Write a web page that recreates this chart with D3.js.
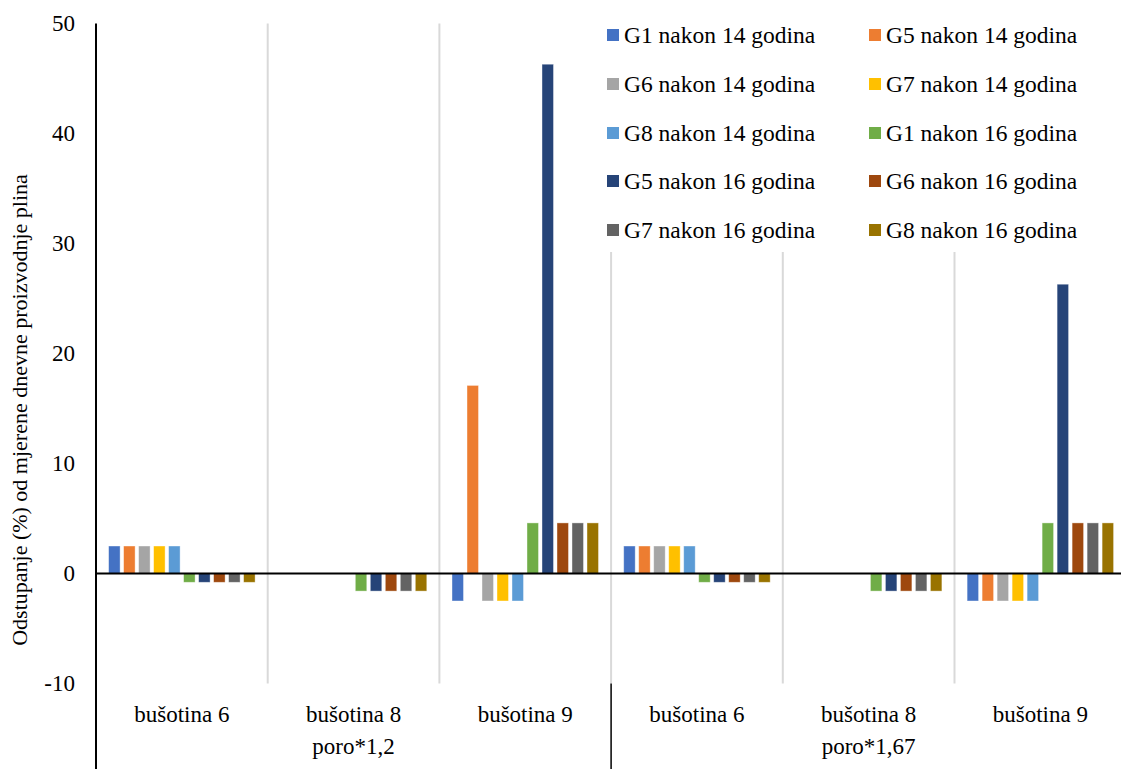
<!DOCTYPE html>
<html><head><meta charset="utf-8">
<script src="https://cdn.jsdelivr.net/npm/d3@7"></script>
</head><body style="margin:0;background:#fff"><svg id="c" width="1121" height="769" style="display:block"></svg>
<script>
const categories = ["bušotina 6","bušotina 8","bušotina 9","bušotina 6","bušotina 8","bušotina 9"];
const groupLabels = ["poro*1,2","poro*1,67"];
const seriesNames = ["G1 nakon 14 godina","G5 nakon 14 godina","G6 nakon 14 godina","G7 nakon 14 godina","G8 nakon 14 godina",
  "G1 nakon 16 godina","G5 nakon 16 godina","G6 nakon 16 godina","G7 nakon 16 godina","G8 nakon 16 godina"];
const seriesColors = ["#4472C4","#ED7D31","#A5A5A5","#FFC000","#5B9BD5","#70AD47","#264478","#9E480E","#636363","#997300"];
const g1_14 = [2.5, 0, -2.5, 2.5, 0, -2.5];
const g5_14 = [2.5, 0, 17.1, 2.5, 0, -2.5];
const g6_14 = [2.5, 0, -2.5, 2.5, 0, -2.5];
const g7_14 = [2.5, 0, -2.5, 2.5, 0, -2.5];
const g8_14 = [2.5, 0, -2.5, 2.5, 0, -2.5];
const g1_16 = [-0.8, -1.6, 4.6, -0.8, -1.6, 4.6];
const g5_16 = [-0.8, -1.6, 46.3, -0.8, -1.6, 26.3];
const g6_16 = [-0.8, -1.6, 4.6, -0.8, -1.6, 4.6];
const g7_16 = [-0.8, -1.6, 4.6, -0.8, -1.6, 4.6];
const g8_16 = [-0.8, -1.6, 4.6, -0.8, -1.6, 4.6];
const seriesValues = [g1_14,g5_14,g6_14,g7_14,g8_14,g1_16,g5_16,g6_16,g7_16,g8_16];
const yTicks = [-10,0,10,20,30,40,50];
const yTitle = "Odstupanje (%) od mjerene dnevne proizvodnje plina";

(function(){
const FONT = '"Liberation Serif"';
const svg = d3.select("#c");
const pLeft = 96, groupW = 171.7, pTop = 23.5, pBottom = 683.5;
const idx = categories.map((d,i)=>i);
const x0 = d3.scaleBand().domain(idx).range([pLeft, pLeft + groupW*categories.length]).padding(0);
const x1 = d3.scaleBand().domain(d3.range(seriesNames.length)).range([0, x0.bandwidth()]).paddingInner(0.233).paddingOuter(0.84);
const y = d3.scaleLinear().domain([-10,50]).range([pBottom, pTop]);

const bounds = idx.slice(1);
svg.append("g").selectAll("line").data(bounds).join("line")
  .attr("x1", d=>x0(d)).attr("x2", d=>x0(d)).attr("y1", pTop).attr("y2", pBottom)
  .attr("stroke", "#d9d9d9").attr("stroke-width", 2);

const gs = svg.append("g").selectAll("g").data(seriesValues).join("g").attr("fill",(d,i)=>seriesColors[i]);
gs.each(function(vals, si){
  d3.select(this).selectAll("rect").data(vals.map((v,ci)=>({v,ci}))).join("rect")
    .attr("x", d=>x0(d.ci)+x1(si)).attr("width", x1.bandwidth())
    .attr("y", d=>Math.min(y(d.v), y(0))).attr("height", d=>Math.abs(y(d.v)-y(0)))
    .attr("stroke","#ffffff").attr("stroke-opacity",0.5).attr("stroke-width",0.8);
});

svg.append("line").attr("x1", pLeft).attr("x2", 1121).attr("y1", y(0)).attr("y2", y(0))
  .attr("stroke","#000").attr("stroke-width",2);
svg.append("line").attr("x1", pLeft).attr("x2", pLeft).attr("y1", pTop).attr("y2", 769)
  .attr("stroke","#000").attr("stroke-width",2);
svg.append("line").attr("x1", x0(3)).attr("x2", x0(3)).attr("y1", pBottom).attr("y2", 769)
  .attr("stroke","#000").attr("stroke-width",1.5);

const yAxis = d3.axisLeft(y).tickValues(yTicks).tickSize(0).tickPadding(21).tickFormat(d=>String(d));
const ya = svg.append("g").attr("transform",`translate(${pLeft},0)`).call(yAxis);
ya.select(".domain").remove();
ya.selectAll("text").attr("fill","#000").style("font-family",FONT).style("font-size","23px");

svg.append("g").selectAll("text").data(categories).join("text")
  .attr("x",(d,i)=>x0(i)+x0.bandwidth()/2).attr("y",722).attr("text-anchor","middle")
  .style("font-family",FONT).style("font-size","23px").text(d=>d);
svg.append("g").selectAll("text").data(groupLabels).join("text")
  .attr("x",(d,i)=>x0(i*3)+x0.bandwidth()*1.5).attr("y",754).attr("text-anchor","middle")
  .style("font-family",FONT).style("font-size","23px").text(d=>d);

svg.append("text").attr("transform","translate(27,410) rotate(-90)").attr("text-anchor","middle")
  .style("font-family",FONT).style("font-size","22px").text(yTitle);

const lg = svg.append("g");
lg.append("rect").attr("x",598).attr("y",10).attr("width",523).attr("height",242).attr("fill","#fff");
const rows = [35,84,133,181,230];
const cols = [607,869];
seriesNames.forEach((n,i)=>{
  const cx = cols[i%2], cy = rows[Math.floor(i/2)];
  lg.append("rect").attr("x",cx).attr("y",cy-6).attr("width",12).attr("height",12).attr("fill",seriesColors[i]);
  lg.append("text").attr("x",cx+17).attr("y",cy+8).style("font-family",FONT).style("font-size","23.5px").text(n);
});
})();
</script></body></html>
